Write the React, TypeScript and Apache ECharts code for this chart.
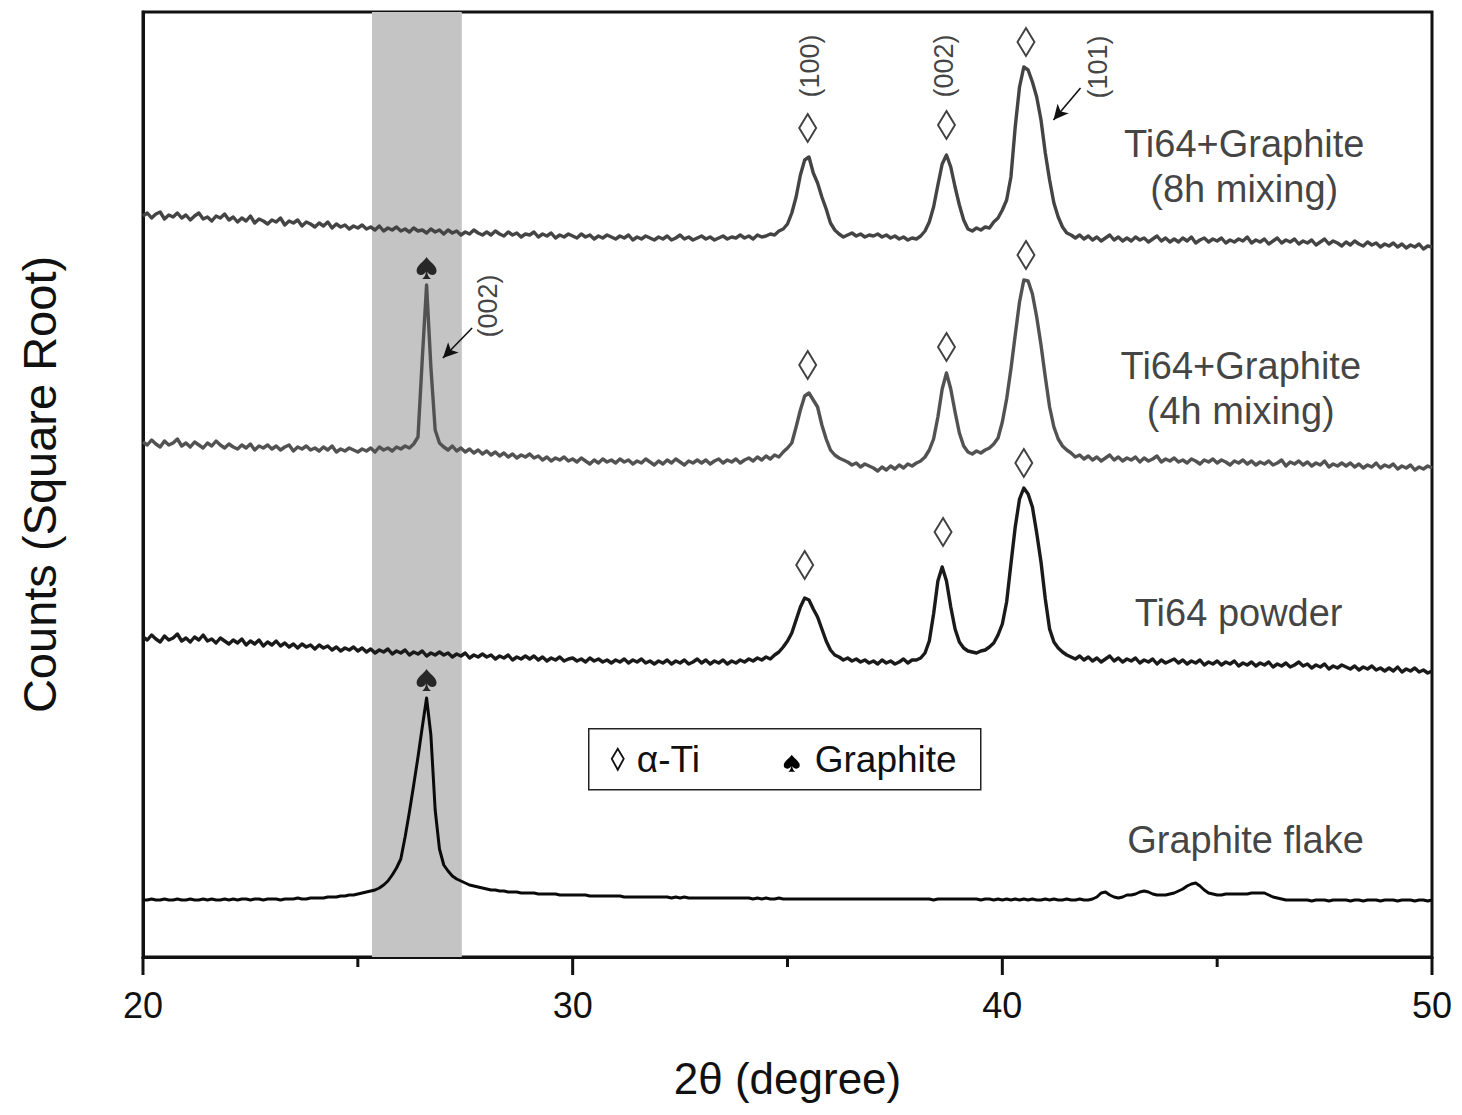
import React, { useEffect, useRef } from "react";
import * as echarts from "echarts";

// 2θ grid: 20.0° … 50.0° in 0.1° steps (301 points per pattern)
const THETA_START_TENTHS = 200;

// Plotted intensities (square-root counts, arbitrary units, patterns offset vertically)
const ti64Graphite8h = [
  741, 744, 739, 743, 745, 738, 742, 740, 744, 739,
  742, 737, 741, 744, 738, 740, 736, 741, 739, 743,
  737, 740, 735, 739, 736, 741, 734, 738, 736, 733,
  737, 735, 739, 732, 736, 734, 737, 731, 735, 733,
  730, 734, 731, 735, 729, 733, 730, 732, 728, 731,
  729, 732, 728, 730, 727, 731, 726, 729, 727, 730,
  726, 728, 725, 729, 726, 727, 724, 728, 725, 727,
  723, 727, 724, 726, 722, 725, 723, 727, 724, 722,
  725, 722, 726, 723, 721, 725, 722, 724, 720, 723,
  722, 725, 720, 723, 721, 724, 719, 722, 720, 723,
  721, 719, 723, 720, 722, 718, 721, 719, 722, 720,
  718, 721, 719, 722, 717, 720, 718, 721, 719, 717,
  720, 718, 721, 717, 719, 722, 718, 720, 717, 719,
  721, 718, 720, 717, 719, 721, 718, 720, 719, 722,
  719, 721, 718, 722, 720, 721, 723, 722, 726, 728,
  733, 744, 760, 782, 797, 800, 784, 774, 760, 748,
  734, 727, 723, 720, 722, 724, 721, 723, 720, 722,
  721, 723, 720, 722, 719, 721, 718, 720, 717, 719,
  718, 721, 726, 735, 750, 772, 793, 802, 790, 770,
  752, 737, 728, 726, 729, 727, 730, 729, 735, 739,
  747, 757, 780, 830, 870, 890, 887, 875, 860, 837,
  804, 777, 754, 740, 730, 724, 722, 719, 722, 718,
  721, 717, 720, 716, 719, 722, 717, 720, 716, 719,
  716, 720, 717, 719, 715, 718, 721, 716, 719, 715,
  718, 715, 719, 716, 720, 714, 717, 719, 715, 718,
  716, 719, 714, 717, 715, 718, 716, 720, 714, 717,
  715, 718, 713, 716, 719, 714, 717, 715, 718, 713,
  716, 714, 717, 712, 715, 718, 713, 716, 714, 711,
  715, 712, 716, 713, 711, 715, 712, 714, 710, 713,
  711, 714, 710, 713, 709, 712, 710, 713, 708, 711,
  710,
];

const ti64Graphite4h = [
  515, 512, 517, 513, 510, 516, 512, 514, 518, 511,
  514, 510, 515, 512, 509, 514, 511, 516, 512, 509,
  513, 510, 508, 512, 509, 513, 507, 511, 509, 512,
  508, 511, 507, 510, 512, 506, 510, 508, 511, 507,
  509, 506, 510, 507, 511, 505, 508, 506, 509, 507,
  505, 508, 506, 509, 505, 510, 507, 509, 506, 510,
  508, 511, 509, 513, 520, 598, 672, 590, 527, 514,
  510, 507, 511, 506, 509, 505, 508, 504, 507, 503,
  506, 502, 505, 501, 504, 500, 503, 499, 502, 500,
  503, 499, 501, 497, 500, 496, 499, 497, 500, 496,
  498, 495, 499, 496, 493, 497, 494, 498, 495, 497,
  494, 498, 495, 497, 493, 496, 494, 498, 495, 492,
  496, 493, 497, 494, 498, 495, 492, 496, 494, 497,
  494, 497, 493, 496, 498, 494, 497, 495, 498, 494,
  497, 499, 496, 500, 497, 501, 498, 502, 500, 505,
  509, 514, 530, 547, 561, 564, 557, 550, 532, 518,
  507, 502, 499, 497, 495, 492, 494, 490, 493, 491,
  489, 486, 490, 487, 491, 488, 492, 489, 493, 491,
  494, 496, 500, 507, 518, 540, 568, 584, 568, 545,
  524, 511, 505, 503, 506, 504, 507, 509, 513, 519,
  535, 558, 588, 622, 655, 677, 676, 663, 640, 612,
  580, 550, 530, 518, 511, 507, 504, 500, 502, 498,
  501, 497, 500, 496, 499, 502, 497, 500, 496, 499,
  497, 500, 495, 499, 496, 498, 501, 495, 498, 496,
  499, 495, 497, 494, 498, 496, 493, 497, 495, 498,
  494, 497, 495, 492, 496, 494, 497, 493, 496, 492,
  495, 493, 496, 492, 494, 497, 491, 495, 493, 496,
  492, 495, 491, 494, 492, 496, 490, 493, 491, 494,
  491, 494, 490, 493, 489, 492, 490, 494, 489, 492,
  490, 493, 488, 491, 489, 492, 487, 490, 488, 491,
  489,
];

const ti64Powder = [
  320, 317, 322, 318, 315, 321, 317, 319, 323, 316,
  319, 315, 320, 317, 322, 316, 318, 314, 319, 316,
  313, 317, 314, 318, 312, 316, 313, 317, 311, 315,
  312, 316, 311, 314, 310, 313, 309, 313, 310, 312,
  308, 312, 309, 311, 307, 310, 306, 309, 307, 310,
  306, 309, 305, 308, 304, 307, 305, 308, 303, 306,
  304, 307, 302, 305, 303, 306, 301, 304, 302, 305,
  302, 304, 300, 303, 301, 304, 299, 302, 300, 303,
  300, 302, 298, 301, 299, 302, 297, 300, 298, 301,
  298, 301, 297, 300, 296, 299, 297, 300, 296, 298,
  299, 296, 298, 295, 299, 296, 298, 295, 297, 294,
  297, 295, 298, 294, 297, 295, 298, 294, 296, 293,
  296, 294, 297, 293, 296, 294, 297, 293, 295, 298,
  294, 297, 293, 296, 294, 297, 293, 296, 294, 297,
  295, 298, 296, 299, 297, 300, 298, 302, 305, 310,
  316, 324, 337, 350, 359, 357, 348, 340, 328, 316,
  307, 302, 300, 297, 299, 296, 298, 295, 297, 294,
  296, 293, 297, 294, 296, 293, 295, 298, 294, 297,
  297, 299, 304, 316, 343, 376, 390, 376, 350, 328,
  315, 309, 306, 305, 304, 306, 307, 310, 314, 322,
  333, 355, 393, 430, 458, 469, 463, 450, 424, 395,
  358, 328, 315, 309, 305, 302, 300, 298, 301, 297,
  300, 296, 299, 295, 298, 301, 296, 299, 295, 298,
  296, 299, 294, 297, 295, 298, 293, 297, 294, 296,
  298, 294, 297, 293, 296, 294, 297, 292, 295, 293,
  296, 292, 295, 293, 296, 291, 294, 292, 295, 291,
  294, 292, 295, 290, 293, 291, 294, 290, 292, 295,
  291, 293, 289, 292, 290, 293, 288, 291, 289, 292,
  290, 288, 291, 287, 290, 288, 291, 287, 289, 286,
  289, 286, 290, 285, 288, 286, 289, 285, 287, 284,
  286,
];

const graphiteFlake = [
  57, 57, 58, 57, 57, 58, 57, 57, 58, 57,
  57, 58, 57, 57, 58, 57, 58, 57, 57, 58,
  57, 58, 57, 58, 58, 57, 58, 58, 57, 58,
  58, 58, 57, 58, 58, 58, 59, 58, 58, 59,
  59, 59, 59, 60, 60, 60, 61, 61, 62, 62,
  63, 64, 65, 66, 67, 69, 72, 76, 82, 89,
  98, 120, 145, 172, 200, 230, 259, 222, 147, 108,
  92, 86, 81, 78, 76, 74, 72, 71, 70, 69,
  68, 67, 67, 66, 66, 65, 65, 65, 64, 64,
  64, 64, 63, 63, 63, 63, 63, 62, 62, 62,
  62, 62, 62, 62, 61, 61, 61, 61, 61, 61,
  61, 61, 60, 60, 60, 60, 60, 60, 60, 60,
  60, 60, 60, 59, 60, 59, 60, 59, 59, 59,
  59, 59, 59, 59, 59, 59, 59, 59, 59, 59,
  59, 59, 58, 59, 58, 59, 58, 58, 59, 58,
  58, 58, 58, 58, 58, 58, 58, 58, 58, 58,
  58, 58, 58, 58, 58, 58, 58, 58, 58, 58,
  58, 58, 58, 58, 58, 58, 58, 58, 58, 58,
  58, 58, 58, 58, 57, 58, 58, 58, 58, 58,
  58, 58, 58, 58, 58, 57, 58, 58, 57, 58,
  57, 58, 57, 58, 57, 58, 57, 58, 57, 57,
  58, 57, 58, 57, 57, 58, 57, 57, 58, 57,
  57, 58, 60, 64, 65, 62, 60, 59, 60, 62,
  62, 63, 65, 66, 65, 63, 62, 62, 62, 63,
  64, 66, 68, 71, 73, 74, 71, 67, 64, 63,
  62, 62, 63, 63, 63, 63, 63, 63, 64, 64,
  64, 64, 62, 60, 59, 58, 57, 57, 57, 57,
  57, 57, 56, 57, 57, 57, 56, 57, 57, 57,
  57, 56, 57, 57, 56, 57, 57, 57, 56, 57,
  57, 57, 56, 57, 57, 57, 56, 57, 57, 56,
  57,
];

// Phase markers: [2θ, marker height]
const alphaTiMarkers = [
  [35.47, 829], [38.7, 832], [40.55, 915],
  [35.47, 592], [38.7, 610], [40.55, 702],
  [35.4, 392], [38.62, 425], [40.5, 494],
];
const graphiteMarkers = [
  [26.6, 689],
  [26.6, 277],
];

// Miller indices written vertically above the peaks
const hklLabels = [
  { name: "(100)", value: [35.53, 891] },
  { name: "(002)", value: [38.65, 891] },
  { name: "(101)", value: [42.23, 890] },
  { name: "(002)", value: [28.03, 651] },
];

// Pointer arrows: [tail, head]
const arrows = [
  [[41.82, 869], [41.19, 837]],
  [[27.66, 629], [26.98, 599]],
];

// Pattern captions
const patternCaptions = [
  { name: "Ti64+Graphite\n(8h mixing)", value: [45.63, 791] },
  { name: "Ti64+Graphite\n(4h mixing)", value: [45.55, 569] },
  { name: "Ti64 powder", value: [45.5, 344] },
  { name: "Graphite flake", value: [45.66, 117] },
];

// Highlighted graphite (002) window
const graphiteBand = [25.33, 27.42];

// Axis range and tick marks
const xRange = { min: 20, max: 50 };
const majorStep = 10;
const majorTicks = [20, 30, 40, 50];
const minorTicks = [25, 35, 45];

const FONT = "'Liberation Sans', Arial, Helvetica, sans-serif";
const INK = "#111";
const SPADE_D =
  "M50 0 C40 18 0 38 0 62 C0 80 22 88 38 76 C42 73 45 70 47 66 C46 80 40 92 28 100 L72 100 C60 92 54 80 53 66 C55 70 58 73 62 76 C78 88 100 80 100 62 C100 38 60 18 50 0 Z";

echarts.graphic.registerShape("spade", echarts.graphic.extendPath(SPADE_D, {}));

const toPairs = (vals: number[]) =>
  vals.map((v, i) => [(THETA_START_TENTHS + i) / 10, v]);

export default function App() {
  const ref = useRef<HTMLDivElement>(null);

  useEffect(() => {
    if (!ref.current) return;
    const chart = echarts.init(ref.current, undefined, { renderer: "svg" });

    const lineSeries = (name: string, vals: number[], color: string, width: number, extra = {}) => ({
      name,
      type: "line",
      data: toPairs(vals),
      showSymbol: false,
      symbol: "none",
      z: 3,
      lineStyle: { color, width, join: "round" },
      silent: true,
      ...extra,
    });

    chart.setOption({
      animation: false,
      backgroundColor: "#ffffff",
      grid: {
        left: 143,
        right: 30,
        top: 12,
        bottom: 158,
        show: true,
        borderColor: INK,
        borderWidth: 3,
        backgroundColor: "transparent",
      },
      xAxis: {
        type: "value",
        min: xRange.min,
        max: xRange.max,
        interval: majorStep,
        name: "2θ (degree)",
        nameLocation: "middle",
        nameGap: 99,
        nameTextStyle: { fontSize: 44, color: INK, fontFamily: FONT },
        axisLine: { show: true, lineStyle: { color: INK, width: 3 } },
        axisTick: { show: false },
        axisLabel: { fontSize: 36, color: INK, fontFamily: FONT, margin: 30 },
        splitLine: { show: false },
      },
      yAxis: {
        type: "value",
        min: 0,
        max: 945,
        name: "Counts (Square Root)",
        nameLocation: "middle",
        nameRotate: 90,
        nameGap: 80,
        nameTextStyle: { fontSize: 47, color: INK, fontFamily: FONT },
        axisLine: { show: true, lineStyle: { color: INK, width: 3 } },
        axisTick: { show: false },
        axisLabel: { show: false },
        splitLine: { show: false },
      },
      series: [
        lineSeries("Graphite flake", graphiteFlake, "#0a0a0a", 3, {
          markArea: {
            silent: true,
            z: 1,
            itemStyle: { color: "#c4c4c4" },
            data: [[{ xAxis: graphiteBand[0] }, { xAxis: graphiteBand[1] }]],
          },
        }),
        lineSeries("Ti64 powder", ti64Powder, "#1a1a1a", 3.4),
        lineSeries("Ti64+Graphite (4h mixing)", ti64Graphite4h, "#525252", 3.4),
        lineSeries("Ti64+Graphite (8h mixing)", ti64Graphite8h, "#444444", 3.4),
        {
          name: "α-Ti",
          type: "scatter",
          data: alphaTiMarkers,
          symbol: "diamond",
          symbolSize: [17, 28],
          z: 5,
          silent: true,
          itemStyle: { color: "rgba(255,255,255,0)", borderColor: INK, borderWidth: 2 },
        },
        {
          name: "Graphite",
          type: "scatter",
          data: graphiteMarkers,
          symbol: "path://" + SPADE_D,
          symbolSize: [20, 22],
          z: 5,
          silent: true,
          itemStyle: { color: "#000" },
        },
        {
          name: "hkl",
          type: "scatter",
          data: hklLabels,
          symbolSize: 0,
          z: 6,
          silent: true,
          label: {
            show: true,
            position: "inside",
            formatter: "{b}",
            rotate: 90,
            fontSize: 27,
            color: INK,
            fontFamily: FONT,
          },
          markLine: {
            silent: true,
            symbol: ["none", "arrow"],
            symbolSize: [11, 15],
            label: { show: false },
            lineStyle: { color: INK, width: 1.6, type: "solid" },
            data: arrows.map(([a, b]) => [{ coord: a }, { coord: b }]),
          },
        },
        {
          name: "captions",
          type: "scatter",
          data: patternCaptions,
          symbolSize: 0,
          z: 6,
          silent: true,
          label: {
            show: true,
            position: "inside",
            formatter: "{b}",
            fontSize: 38,
            lineHeight: 45,
            align: "center",
            color: INK,
            fontFamily: FONT,
          },
        },
      ],
    });

    // Outward tick marks below the 2θ axis, placed through the axis scale
    const axisY = chart.convertToPixel({ yAxisIndex: 0 }, 0) as number;
    const tickLine = (v: number, len: number) => {
      const px = chart.convertToPixel({ xAxisIndex: 0 }, v) as number;
      return {
        type: "line",
        silent: true,
        z: 10,
        shape: { x1: px, y1: axisY, x2: px, y2: axisY + len },
        style: { stroke: INK, lineWidth: 3 },
      };
    };

    const legend = {
      type: "group",
      left: 588,
      top: 728,
      children: [
        {
          type: "rect",
          shape: { x: 0, y: 0, width: 392, height: 61 },
          style: { fill: "#fff", stroke: "#222", lineWidth: 1.5 },
        },
        {
          type: "polygon",
          shape: { points: [[29, 20], [35, 30], [29, 41], [23, 30]] },
          style: { fill: "none", stroke: INK, lineWidth: 1.8 },
        },
        {
          type: "text",
          x: 48,
          y: 31,
          style: { text: "α-Ti", fontSize: 37, fontFamily: FONT, fill: INK, verticalAlign: "middle" },
        },
        {
          type: "spade",
          x: 195,
          y: 26,
          scaleX: 0.16,
          scaleY: 0.17,
          style: { fill: "#000" },
        },
        {
          type: "text",
          x: 226,
          y: 31,
          style: { text: "Graphite", fontSize: 37, fontFamily: FONT, fill: INK, verticalAlign: "middle" },
        },
      ],
    };

    chart.setOption({
      graphic: [
        legend,
        ...majorTicks.map((v) => tickLine(v, 18)),
        ...minorTicks.map((v) => tickLine(v, 10)),
      ],
    });

    return () => chart.dispose();
  }, []);

  return (
    <div
      ref={ref}
      style={{ position: "absolute", left: 0, top: 0, width: 1462, height: 1115, background: "#fff" }}
    />
  );
}
